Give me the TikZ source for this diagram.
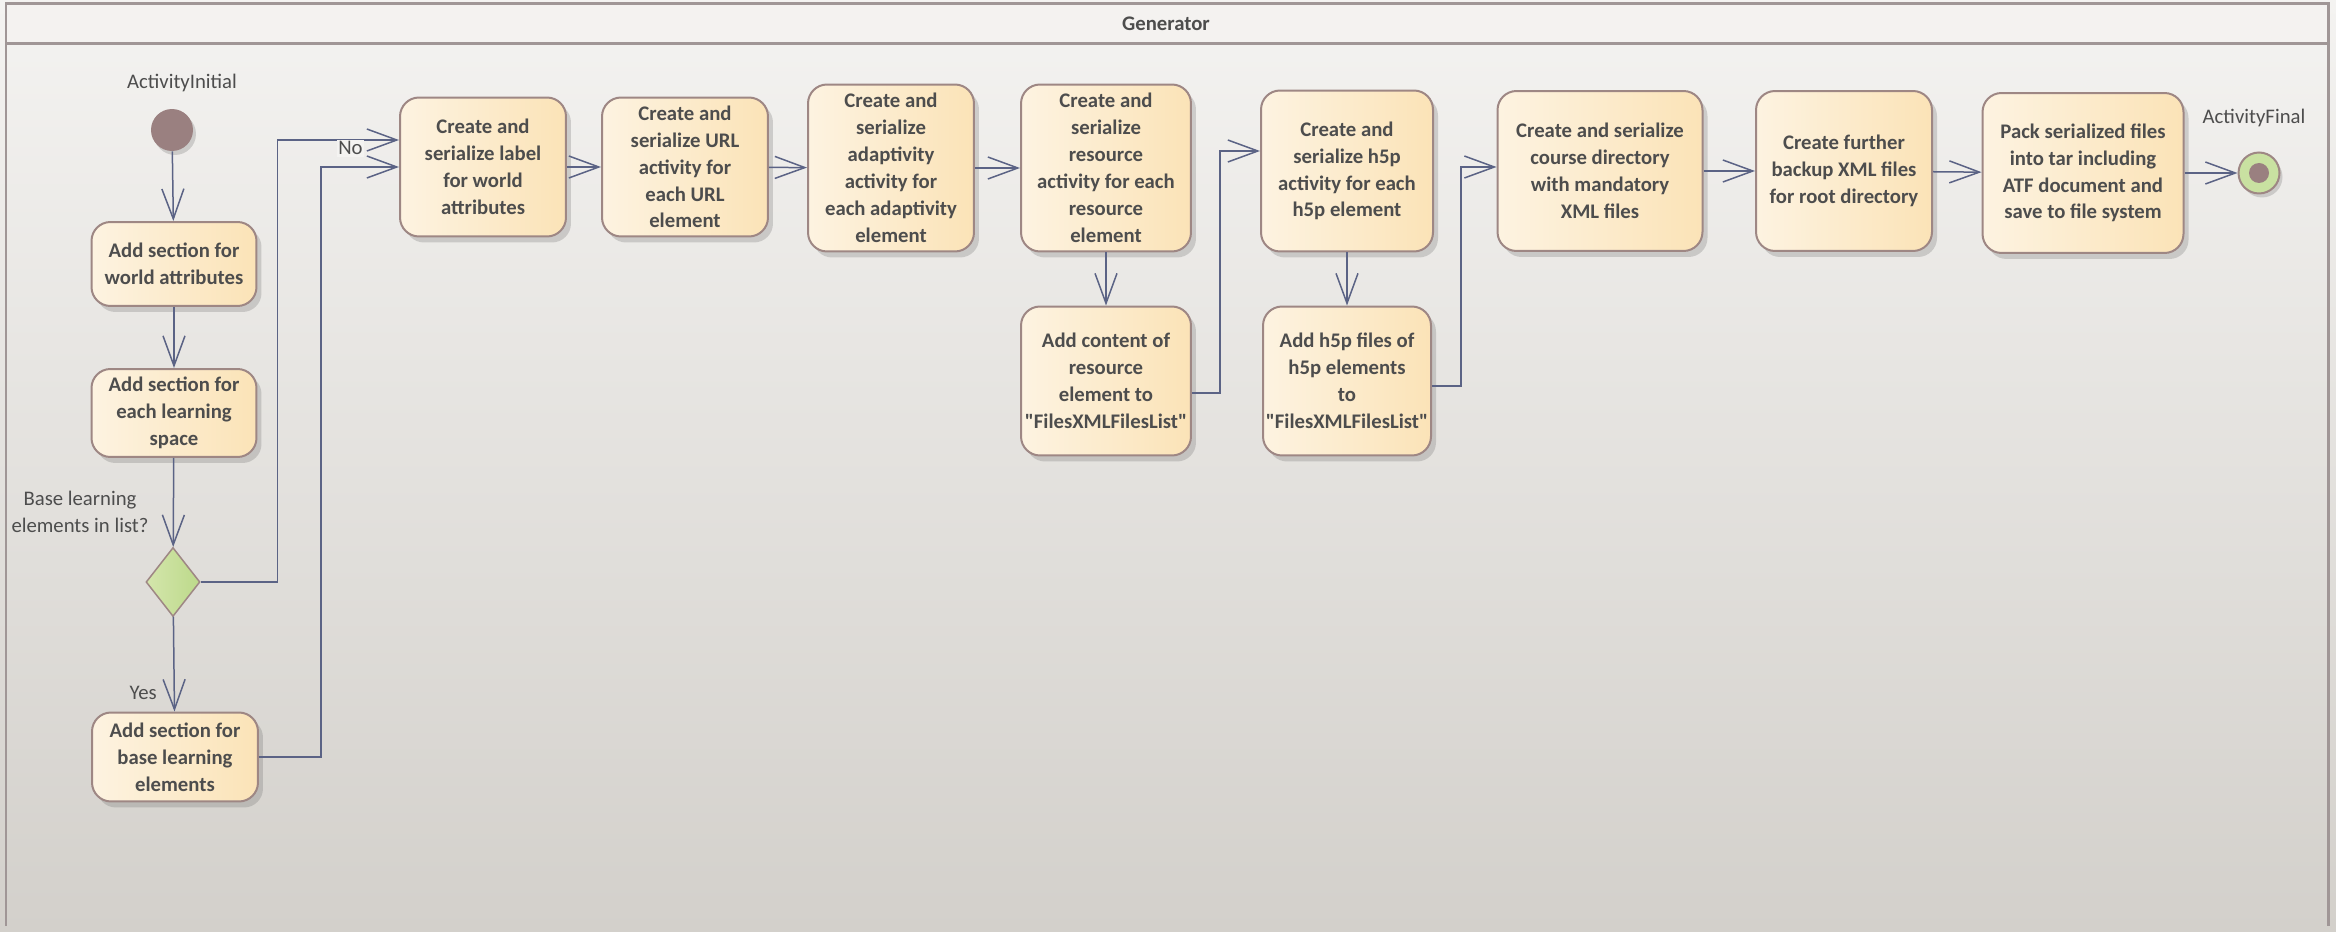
\documentclass[tikz,border=0pt]{standalone}
\usepackage{fontspec}
\setmainfont{Carlito}[Ligatures=TeXOff]
\usepackage{tikz}
\usetikzlibrary{positioning, arrows.meta, shapes.geometric, shadows}

\begin{document}
\begin{tikzpicture}[x=0.02cm, y=-0.02cm,
  action/.style={draw=boxline, line width=0.04cm, rounded corners=0.38cm, left color=boxleft, right color=boxright, align=center, text=textgrey, font=\fontsize{11.8}{15.3}\selectfont\bfseries, inner sep=0pt, drop shadow={shadow xshift=0.1cm, shadow yshift=-0.12cm, fill=black!60, opacity=0.25}},
  flow/.style={draw=flowblue, line width=0.03cm, -{Straight Barb[length=0.6cm, width=0.44cm]}},
  caption/.style={text=textgrey, font=\fontsize{11.8}{15.3}\selectfont, inner sep=1pt},
  frame/.style={draw=framegrey, line width=0.06cm}
]

% Define colors
\definecolor{boxleft}{RGB}{253, 243, 225}
\definecolor{boxright}{RGB}{251, 227, 183}
\definecolor{boxline}{RGB}{158, 135, 132}
\definecolor{flowblue}{RGB}{91, 99, 133}
\definecolor{textgrey}{RGB}{77, 77, 77}
\definecolor{initfill}{RGB}{154, 128, 128}
\definecolor{greenleft}{RGB}{212, 230, 172}
\definecolor{greenright}{RGB}{188, 217, 138}
\definecolor{bgtop}{RGB}{244, 243, 241}
\definecolor{bgbottom}{RGB}{211, 208, 203}
\definecolor{titlefill}{RGB}{244, 242, 240}
\definecolor{framegrey}{RGB}{160, 150, 150}

% Background and frame
\useasboundingbox (0,0) rectangle (2336,932);
\shade[top color=bgtop, bottom color=bgbottom] (0,0) rectangle (2336,932);
\fill[titlefill] (6,4) rectangle (2328,44);
\draw[frame] (6,926) -- (6,4) -- (2328,4) -- (2328,926);
\draw[frame] (6,44) -- (2328,44);
\node[caption, font=\fontsize{11.8}{15.3}\selectfont\bfseries] (title) at (1166,24) {Generator};

% Start, decision and end
\node[circle, fill=initfill, minimum size=0.84cm, inner sep=0pt, drop shadow={shadow xshift=0.06cm, shadow yshift=-0.08cm, fill=black!60, opacity=0.25}] (init) at (172,130) {};
\node[caption] (initLabel) at (182,83) {ActivityInitial};
\node[diamond, draw=boxline, line width=0.03cm, left color=greenleft, right color=greenright, minimum width=1.08cm, minimum height=1.38cm, inner sep=0pt] (decision) at (173,582) {};
\node[caption, align=center] (decisionLabel) at (80,512) {Base learning\\elements in list?};
\node[circle, draw=boxline, line width=0.04cm, fill=greenright!80!white, minimum size=0.82cm, inner sep=0pt, drop shadow={shadow xshift=0.06cm, shadow yshift=-0.08cm, fill=black!60, opacity=0.25}] (final) at (2259,173) {};
\fill[initfill] (final) circle (0.2cm);
\node[caption] (finalLabel) at (2254,118) {ActivityFinal};

% Left column
\node[action, minimum width=3.3cm, minimum height=1.68cm] (worldAttr) at (174,264) {Add section for\\world attributes};
\node[action, minimum width=3.3cm, minimum height=1.76cm] (learnSpace) at (174,413) {Add section for\\each learning\\space};
\node[action, minimum width=3.32cm, minimum height=1.78cm] (baseElems) at (175,757) {Add section for\\base learning\\elements};

% Top row
\node[action, minimum width=3.32cm, minimum height=2.78cm] (labelWorld) at (483,167) {Create and\\serialize label\\for world\\attributes};
\node[action, minimum width=3.32cm, minimum height=2.78cm] (urlAct) at (685,167) {Create and\\serialize URL\\activity for\\each URL\\element};
\node[action, minimum width=3.32cm, minimum height=3.34cm] (adaptAct) at (891,168) {Create and\\serialize\\adaptivity\\activity for\\each adaptivity\\element};
\node[action, minimum width=3.4cm, minimum height=3.34cm] (resAct) at (1106,168) {Create and\\serialize\\resource\\activity for each\\resource\\element};
\node[action, minimum width=3.44cm, minimum height=3.22cm] (h5pAct) at (1347,171) {Create and\\serialize h5p\\activity for each\\h5p element};
\node[action, minimum width=4.1cm, minimum height=3.2cm] (courseDir) at (1600,171) {Create and serialize\\course directory\\with mandatory\\XML files};
\node[action, minimum width=3.52cm, minimum height=3.2cm] (backupXml) at (1844,171) {Create further\\backup XML files\\for root directory};
\node[action, minimum width=4.02cm, minimum height=3.2cm] (packTar) at (2083,173) {Pack serialized files\\into tar including\\ATF document and\\save to file system};

% Second row
\node[action, minimum width=3.4cm, minimum height=2.98cm] (resContent) at (1106,381) {Add content of\\resource\\element to\\"FilesXMLFilesList"};
\node[action, minimum width=3.36cm, minimum height=2.98cm] (h5pFiles) at (1347,381) {Add h5p files of\\h5p elements\\to\\"FilesXMLFilesList"};

% Draw the connectors
\draw[flow] (init) -- (worldAttr);
\draw[flow] (worldAttr) -- (learnSpace);
\draw[flow] (learnSpace) -- (decision);
\draw[flow] (decision) -- node[caption, pos=0.8, left=0.3cm] {Yes} (baseElems);
\draw[flow] (decision.east) -- ++(77,0) |- node[caption, pos=0.8, below=-0.02cm, fill=bgtop] {No} ([yshift=0.54cm]labelWorld.west);
\draw[flow] (baseElems.east) -- ++(62,0) |- (labelWorld.west);
\draw[flow] (labelWorld) -- (urlAct);
\draw[flow] (urlAct) -- (adaptAct);
\draw[flow] (adaptAct) -- (resAct);
\draw[flow] (resAct) -- (resContent);
\draw[flow] ([yshift=-0.24cm]resContent.east) -- ++(28,0) |- ([yshift=0.4cm]h5pAct.west);
\draw[flow] (h5pAct) -- (h5pFiles);
\draw[flow] ([yshift=-0.1cm]h5pFiles.east) -- ++(29,0) |- ([yshift=0.08cm]courseDir.west);
\draw[flow] (courseDir) -- (backupXml);
\draw[flow] (backupXml) -- (packTar);
\draw[flow] (packTar) -- (final);

\end{tikzpicture}
\end{document}
